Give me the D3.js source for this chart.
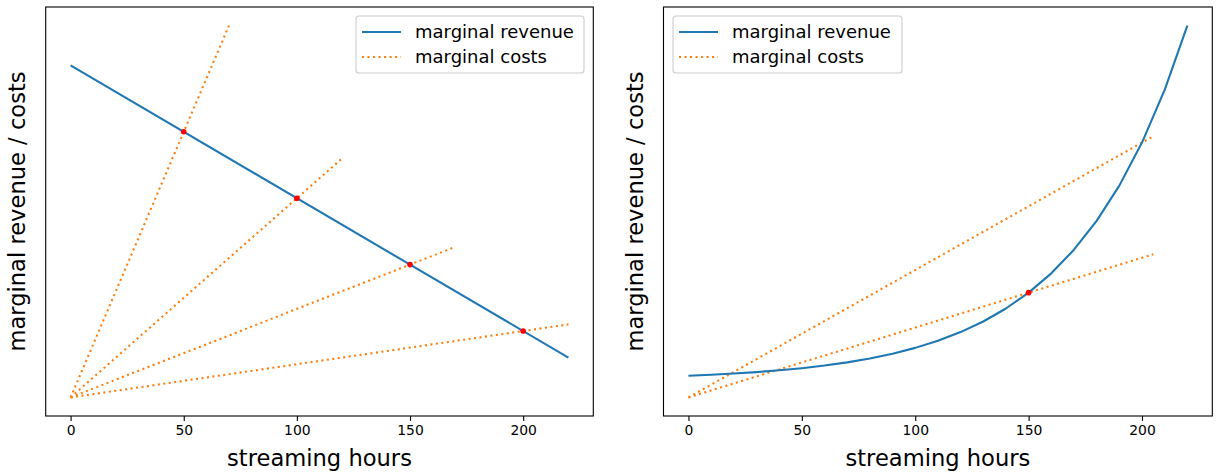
<!DOCTYPE html>
<html>
<head>
<meta charset="utf-8">
<script src="https://cdn.jsdelivr.net/npm/d3@7"></script>
<style>
  body { margin: 0; background: #fff; }
  text { font-family: "DejaVu Sans", sans-serif; fill: #000; }
</style>
</head>
<body>
<svg id="chart" width="1219" height="472"></svg>
<script>
// ---- data -------------------------------------------------------------
// Left panel: linear marginal revenue and four marginal-cost rays
const leftHours   = [0, 220];
const leftRevenue = [250, 30];
const leftCostEnds   = [70, 120, 170, 220];        // hours where each cost ray stops
const leftCostSlopes = [4, 1.5, 0.6667, 0.25];     // cost per hour of each ray
const leftEquilibria = [[50, 200], [100, 150], [150, 100], [200, 50]];

// Right panel: rising marginal revenue and two marginal-cost rays
const rightHours   = [0, 10, 20, 30, 40, 50, 60, 70, 80, 90, 100, 110,
                      120, 130, 140, 150, 160, 170, 180, 190, 200, 210, 220];
const rightRevenue = [5.0, 5.22, 5.49, 5.82, 6.23, 6.72, 7.32, 8.06, 8.95, 10.05, 11.39, 13.03,
                      15.02, 17.46, 20.44, 24.09, 28.53, 33.96, 40.6, 48.7, 58.6, 70.7, 85.5];
const rightCostEnds   = [205, 205];
const rightCostSlopes = [0.293, 0.1606];
const rightEquilibria = [[150, 24.09]];

const xTicks = [0, 50, 100, 150, 200];
const legendLabels = ["marginal revenue", "marginal costs"];
const xLabel = "streaming hours";
const yLabel = "marginal revenue / costs";

// ---- styling ----------------------------------------------------------
const BLUE = "#1f77b4", ORANGE = "#ff7f0e", RED = "#ff0000";
const LW = 2.08;
const DOT = `${LW},${(1.65 * LW).toFixed(2)}`;

const svg = d3.select("#chart");

function panel(opts) {
  const { left, right, top, bottom } = opts.box;
  const g = svg.append("g");

  const x = d3.scaleLinear().domain([-11, 231]).range([left, right]);
  const yMax = opts.yMax;
  const pad = 0.05 * yMax;
  const y = d3.scaleLinear().domain([-pad, yMax + pad]).range([bottom, top]);

  const clipId = "clip" + opts.id;
  svg.append("clipPath").attr("id", clipId)
    .append("rect").attr("x", left).attr("y", top)
    .attr("width", right - left).attr("height", bottom - top);

  const plot = g.append("g").attr("clip-path", `url(#${clipId})`);
  const line = d3.line().x(d => x(d[0])).y(d => y(d[1]));

  // marginal cost rays (dotted)
  opts.costEnds.forEach((end, i) => {
    const s = opts.costSlopes[i];
    plot.append("path")
      .attr("d", line([[0, 0], [end, s * end]]))
      .attr("fill", "none").attr("stroke", ORANGE)
      .attr("stroke-width", LW).attr("stroke-dasharray", DOT);
  });

  // marginal revenue
  plot.append("path")
    .attr("d", line(opts.hours.map((h, i) => [h, opts.revenue[i]])))
    .attr("fill", "none").attr("stroke", BLUE)
    .attr("stroke-width", LW).attr("stroke-linejoin", "round");

  // equilibrium points
  plot.selectAll("circle.eq").data(opts.points).join("circle")
    .attr("class", "eq")
    .attr("cx", d => x(d[0])).attr("cy", d => y(d[1]))
    .attr("r", 2.8).attr("fill", RED);

  // x axis
  const ax = g.append("g").attr("transform", `translate(0,${bottom})`)
    .call(d3.axisBottom(x).tickValues(xTicks).tickSize(4.9).tickPadding(4.5));
  ax.select(".domain").remove();
  ax.selectAll(".tick line").attr("stroke", "#000").attr("stroke-width", 1.1);
  ax.selectAll(".tick text").style("font-size", "13.9px")
    .style("font-family", "'DejaVu Sans', sans-serif").attr("fill", "#000");

  // frame
  g.append("rect").attr("x", left).attr("y", top)
    .attr("width", right - left).attr("height", bottom - top)
    .attr("fill", "none").attr("stroke", "#000").attr("stroke-width", 1.1);

  // axis titles
  g.append("text").attr("x", (left + right) / 2).attr("y", 465.5)
    .attr("text-anchor", "middle").style("font-size", "22.6px").text(xLabel);
  g.append("text")
    .attr("transform", `translate(${left - 20.5},${(top + bottom) / 2}) rotate(-90)`)
    .attr("text-anchor", "middle").style("font-size", "22.6px").text(yLabel);

  // legend
  const lg = opts.legend;
  const leg = g.append("g");
  leg.append("rect").attr("x", lg.x).attr("y", lg.y)
    .attr("width", lg.w).attr("height", lg.h).attr("rx", 3)
    .attr("fill", "#fff").attr("fill-opacity", 0.8)
    .attr("stroke", "#cccccc").attr("stroke-width", 1.1);
  const rows = [
    { label: legendLabels[0], dash: null, color: BLUE },
    { label: legendLabels[1], dash: DOT, color: ORANGE }
  ];
  rows.forEach((r, i) => {
    const cy = lg.y + 16 + i * 25;
    leg.append("line")
      .attr("x1", lg.x + 6).attr("x2", lg.x + 45)
      .attr("y1", cy).attr("y2", cy)
      .attr("stroke", r.color).attr("stroke-width", LW)
      .attr("stroke-dasharray", r.dash);
    leg.append("text").attr("x", lg.x + 59).attr("y", cy)
      .attr("dy", "0.36em").style("font-size", "18px").text(r.label);
  });
}

panel({
  id: "L",
  box: { left: 45.7, right: 593.3, top: 7, bottom: 416 },
  yMax: 280,
  hours: leftHours, revenue: leftRevenue,
  costEnds: leftCostEnds, costSlopes: leftCostSlopes,
  points: leftEquilibria,
  legend: { x: 356, y: 16, w: 228, h: 57 }
});

panel({
  id: "R",
  box: { left: 663.5, right: 1212.3, top: 7, bottom: 416 },
  yMax: d3.max(rightRevenue),
  hours: rightHours, revenue: rightRevenue,
  costEnds: rightCostEnds, costSlopes: rightCostSlopes,
  points: rightEquilibria,
  legend: { x: 673, y: 16, w: 229, h: 57 }
});
</script>
</body>
</html>
